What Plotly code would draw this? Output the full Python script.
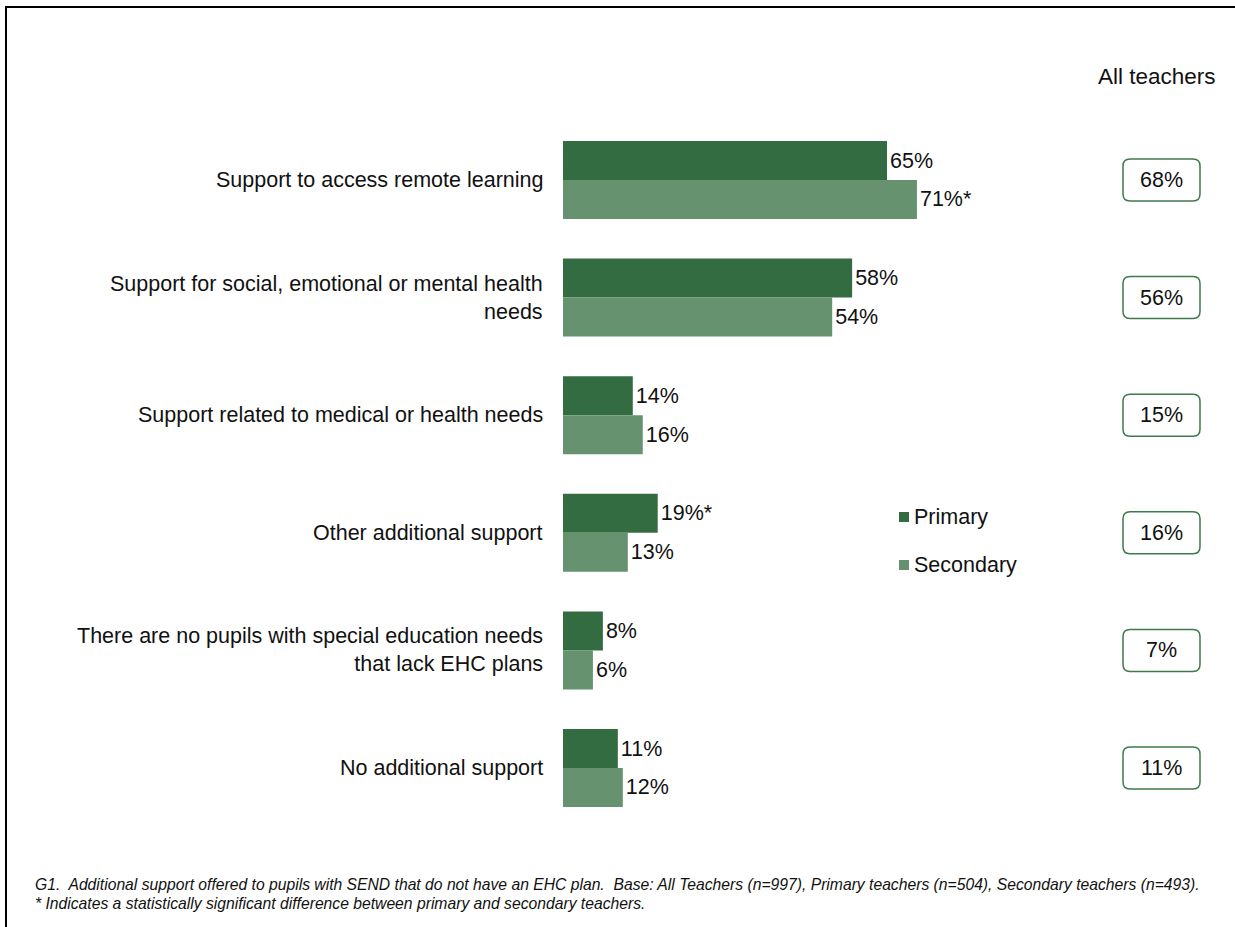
import plotly.graph_objects as go

categories = [
    "Support to access remote learning",
    "Support for social, emotional or mental health<br>needs",
    "Support related to medical or health needs",
    "Other additional support",
    "There are no pupils with special education needs<br>that lack EHC plans",
    "No additional support",
]
series_names = ["Primary", "Secondary"]
primary = [65, 58, 14, 19, 8, 11]
secondary = [71, 54, 16, 13, 6, 12]
primary_sig = ["", "", "", "*", "", ""]
secondary_sig = ["*", "", "", "", "", ""]
all_teachers = [68, 56, 15, 16, 7, 11]

C_PRIM = "#346c42"
C_SEC = "#66926f"
C_BOX = "#3f7a4c"
FONT = "Liberation Sans, Arial, sans-serif"
FS = 21.5

W, H = 1235, 927
X0 = 563          # pixel where bars start
PX_PER_PCT = 4.985
Y0 = 180          # pixel center of first category
STEP = 117.6      # pixels between categories

x_max = (W - X0) / PX_PER_PCT
y_top = -Y0 / STEP
y_bot = (H - Y0) / STEP
idx = list(range(len(categories)))

fig = go.Figure()
for name, vals, sig, col in [(series_names[0], primary, primary_sig, C_PRIM),
                             (series_names[1], secondary, secondary_sig, C_SEC)]:
    fig.add_trace(go.Bar(
        y=idx, x=vals, orientation="h", name=name,
        marker=dict(color=col, line=dict(width=0)),
        text=[f"{v}%{s}" for v, s in zip(vals, sig)],
        textposition="outside", constraintext="none", cliponaxis=False,
        textfont=dict(family=FONT, size=FS, color="#111"),
        showlegend=False,
    ))

annotations = []
shapes = []
for i, (cat, at) in enumerate(zip(categories, all_teachers)):
    annotations.append(dict(
        x=545 / W, xref="paper", y=i, yref="y", text=cat,
        xanchor="right", yanchor="middle", align="right", showarrow=False,
        font=dict(family=FONT, size=FS, color="#111"),
    ))
    annotations.append(dict(
        x=1161.5 / W, xref="paper", y=i, yref="y", text=f"{at}%",
        xanchor="center", yanchor="middle", showarrow=False,
        font=dict(family=FONT, size=FS, color="#111"),
    ))
    hw, hh, r = 38.5, 21, 7
    path = (f"M{-hw + r},{-hh} L{hw - r},{-hh} Q{hw},{-hh} {hw},{-hh + r} "
            f"L{hw},{hh - r} Q{hw},{hh} {hw - r},{hh} L{-hw + r},{hh} "
            f"Q{-hw},{hh} {-hw},{hh - r} L{-hw},{-hh + r} Q{-hw},{-hh} {-hw + r},{-hh} Z")
    shapes.append(dict(
        type="path", path=path, xref="paper", yref="y",
        xsizemode="pixel", ysizemode="pixel",
        xanchor=1161.5 / W, yanchor=i,
        line=dict(color=C_BOX, width=1.5), fillcolor="rgba(0,0,0,0)",
    ))

# legend (custom, tight swatches)
for name, col, py in [(series_names[0], C_PRIM, 517), (series_names[1], C_SEC, 565)]:
    shapes.append(dict(type="rect", xref="paper", yref="paper",
                       x0=899 / W, x1=909 / W, y0=1 - (py + 5) / H, y1=1 - (py - 5) / H,
                       fillcolor=col, line=dict(width=0)))
    annotations.append(dict(
        x=912 / W, xref="paper", y=1 - py / H, yref="paper", text=name,
        xanchor="left", yanchor="middle", showarrow=False,
        font=dict(family=FONT, size=FS, color="#111"),
    ))

annotations.append(dict(
    x=1218 / W, xref="paper", y=1 - 76 / H, yref="paper", text="All teachers",
    xanchor="right", yanchor="middle", showarrow=False,
    font=dict(family=FONT, size=22.5, color="#111"),
))
annotations.append(dict(
    x=33 / W, xref="paper", y=1 - 884 / H, yref="paper",
    text="<i>G1.  Additional support offered to pupils with SEND that do not have an EHC plan.  "
         "Base: All Teachers (n=997), Primary teachers (n=504), Secondary teachers (n=493).</i>",
    xanchor="left", yanchor="middle", showarrow=False,
    font=dict(family=FONT, size=15.7, color="#111"),
))
annotations.append(dict(
    x=33 / W, xref="paper", y=1 - 903 / H, yref="paper",
    text="<i>* Indicates a statistically significant difference between primary and secondary teachers.</i>",
    xanchor="left", yanchor="middle", showarrow=False,
    font=dict(family=FONT, size=15.7, color="#111"),
))

# frame lines (top and left)
shapes.append(dict(type="line", xref="paper", yref="paper",
                   x0=5 / W, x1=1, y0=1 - 7 / H, y1=1 - 7 / H,
                   line=dict(color="black", width=2)))
shapes.append(dict(type="line", xref="paper", yref="paper",
                   x0=6 / W, x1=6 / W, y0=0, y1=1 - 6 / H,
                   line=dict(color="black", width=2)))

fig.update_layout(
    width=W, height=H,
    margin=dict(l=0, r=0, t=0, b=0),
    paper_bgcolor="white", plot_bgcolor="white",
    barmode="group", bargap=0.337, bargroupgap=0,
    xaxis=dict(domain=[X0 / W, 1], range=[0, x_max], visible=False,
               showgrid=False, zeroline=False, fixedrange=True),
    yaxis=dict(range=[y_bot, y_top], visible=False, showgrid=False,
               zeroline=False, fixedrange=True),
    showlegend=False,
    annotations=annotations, shapes=shapes,
    font=dict(family=FONT),
)

fig.write_html("out.html", config={"displayModeBar": False},
               post_script="document.body.style.margin='0px';document.body.style.overflow='hidden';")
